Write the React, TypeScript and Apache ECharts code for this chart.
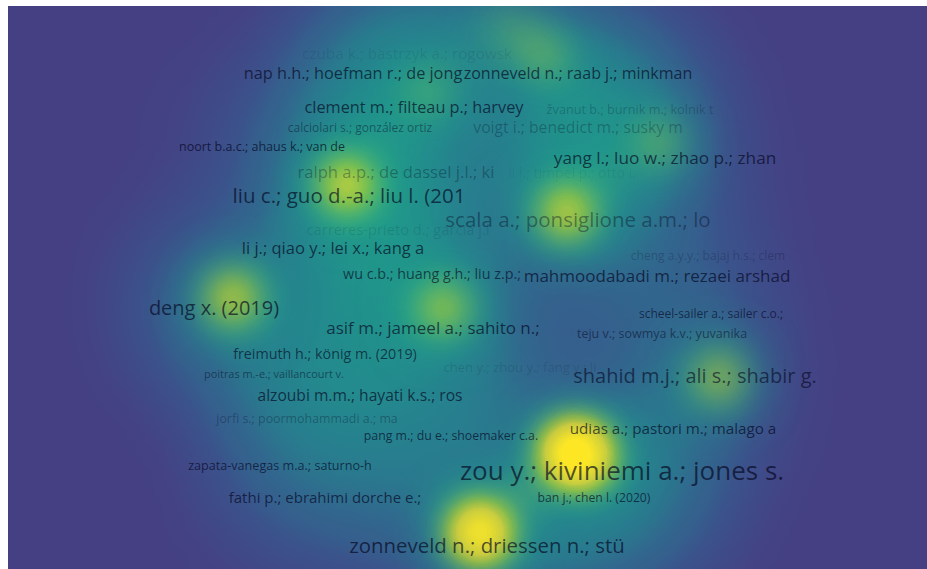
import React, { useEffect, useRef } from "react";
import * as echarts from "echarts";

// Map extent (page-like map coordinates of the VOSviewer layout)
const MAP_X0 = 8, MAP_X1 = 927, MAP_Y0 = 6, MAP_Y1 = 569;

// Labelled items
const itemNames = [
  "czuba k.; bastrzyk a.; rogowsk",
  "nap h.h.; hoefman r.; de jong",
  "zonneveld n.; raab j.; minkman",
  "clement m.; filteau p.; harvey",
  "žvanut b.; burnik m.; kolnik t",
  "calciolari s.; gonzález ortiz",
  "voigt i.; benedict m.; susky m",
  "noort b.a.c.; ahaus k.; van de",
  "yang l.; luo w.; zhao p.; zhan",
  "ralph a.p.; de dassel j.l.; ki",
  "li l.; timpel p.; otto i.",
  "liu c.; guo d.-a.; liu l. (201",
  "scala a.; ponsiglione a.m.; lo",
  "carreres-prieto d.; garcia j.l",
  "li j.; qiao y.; lei x.; kang a",
  "cheng a.y.y.; bajaj h.s.; clem",
  "wu c.b.; huang g.h.; liu z.p.;",
  "mahmoodabadi m.; rezaei arshad",
  "deng x. (2019)",
  "asif m.; jameel a.; sahito n.;",
  "scheel-sailer a.; sailer c.o.;",
  "teju v.; sowmya k.v.; yuvanika",
  "freimuth h.; könig m. (2019)",
  "poitras m.-e.; vaillancourt v.",
  "chen y.; zhou y.; fang y.; li",
  "shahid m.j.; ali s.; shabir g.",
  "alzoubi m.m.; hayati k.s.; ros",
  "jorfi s.; poormohammadi a.; ma",
  "pang m.; du e.; shoemaker c.a.",
  "udias a.; pastori m.; malago a",
  "zapata-vanegas m.a.; saturno-h",
  "zou y.; kiviniemi a.; jones s.",
  "fathi p.; ebrahimi dorche e.;",
  "ban j.; chen l. (2020)",
  "zonneveld n.; driessen n.; stü",
];
const itemX = [407, 353, 578, 414, 630, 360, 578, 262, 665, 396, 572, 349, 578, 398, 333, 708, 432, 657, 214, 433, 711, 662, 325, 274, 520, 695, 360, 307, 451, 673, 280, 622, 325, 594, 487];
const itemY = [53, 73, 73, 107, 109, 127, 127, 146, 157, 171, 172, 195, 219, 229, 247, 255, 273, 275, 307, 327, 313, 333, 353, 373, 367, 375, 395, 418, 435, 428, 465, 470, 497, 497, 545];
const itemWeight = [0.55, 0.45, 0.65, 0.7, 0.25, 0.55, 0.6, 0.3, 0.45, 0.7, 0.6, 0.8, 0.75, 0.7, 0.7, 0.1, 0.65, 0.35, 0.7, 0.75, 0.1, 0.2, 0.6, 0.4, 0.5, 0.5, 0.6, 0.45, 0.45, 0.45, 0.3, 0.7, 0.4, 0.5, 0.7];
const labelSize = [15.3, 16.3, 16, 16.3, 12.7, 12, 15.7, 12.5, 17.2, 16.6, 14, 20.5, 20.5, 14.7, 16.5, 12.1, 14.3, 17, 20, 17, 12, 12.5, 14.3, 10.9, 13, 20, 15.6, 12.4, 12.3, 15.2, 12.6, 26, 15, 12.2, 20.4];
const labelAlpha = [0.13, 0.85, 0.85, 0.85, 0.3, 0.55, 0.35, 0.9, 0.85, 0.4, 0.1, 0.85, 0.5, 0.15, 0.85, 0.3, 0.8, 0.85, 0.85, 0.85, 0.8, 0.65, 0.8, 0.65, 0.18, 0.75, 0.85, 0.4, 0.85, 0.85, 0.85, 0.85, 0.85, 0.85, 0.85];

// Unlabelled items spread through the map (labels hidden)
const hiddenX = [500, 420, 560, 620, 430, 520, 400, 560, 380, 650, 235];
const hiddenY = [30, 40, 160, 90, 400, 500, 500, 540, 300, 520, 300];
const hiddenWeight = [0.6, 0.45, 0.6, 0.5, 0.45, 0.5, 0.45, 0.5, 0.55, 0.35, 0.35];

// Dense cores of the strongest items
const coreX = [573, 595, 480, 347, 567, 233, 718, 443, 657, 548, 428, 500];
const coreY = [453, 460, 532, 185, 212, 298, 378, 308, 143, 58, 92, 22];
const coreWeight = [0.95, 0.22, 0.92, 0.68, 0.65, 0.62, 0.52, 0.55, 0.4, 0.38, 0.35, 0.25];

const baseColors = ["#453f83", "#3f4a88", "#3b528b", "#355f8d", "#31688e", "#2a788e", "#25838e", "#21918c", "#1f9e89", "#22a884"];
const coreColors = ["#21918c", "#22a884", "#44bf70", "#7ad151", "#bddf26", "#fde725",
  "#fde725", "#fde725", "#fde725", "#fde725", "#fde725", "#fde725", "#fde725", "#fde725", "#fde725", "#fde725", "#fde725", "#fde725"];

export default function App() {
  const ref = useRef<HTMLDivElement>(null);
  useEffect(() => {
    if (!ref.current) return;
    echarts.registerMap("vosbox", {
      type: "FeatureCollection",
      features: [
        {
          type: "Feature",
          properties: { name: "box" },
          geometry: {
            type: "Polygon",
            coordinates: [[[MAP_X0, -MAP_Y0], [MAP_X1, -MAP_Y0], [MAP_X1, -MAP_Y1], [MAP_X0, -MAP_Y1], [MAP_X0, -MAP_Y0]]],
          },
        },
      ],
    } as any);
    const chart = echarts.init(ref.current, null, { renderer: "svg" });
    const base: any[] = [];
    itemNames.forEach((_, i) => base.push([itemX[i], -itemY[i], itemWeight[i]]));
    hiddenX.forEach((x, i) => base.push([x, -hiddenY[i], hiddenWeight[i]]));
    const cores = coreX.map((x, i) => [x, -coreY[i], coreWeight[i]]);
    const labels = itemNames.map((n, i) => ({
      name: n,
      value: [itemX[i], -itemY[i]],
      label: { fontSize: labelSize[i], color: `rgba(5,5,30,${labelAlpha[i]})` },
    }));
    chart.setOption({
      animation: false,
      backgroundColor: baseColors[0],
      geo: {
        map: "vosbox",
        left: 0,
        right: 0,
        top: 0,
        bottom: 0,
        roam: false,
        silent: true,
        label: { show: false },
        itemStyle: { areaColor: "rgba(0,0,0,0)", borderWidth: 0, borderColor: "rgba(0,0,0,0)" },
        emphasis: { disabled: true },
        select: { disabled: true },
      },
      visualMap: [
        { type: "continuous", show: false, min: 0, max: 1, seriesIndex: 0, inRange: { color: baseColors } },
        { type: "continuous", show: false, min: 0, max: 1, seriesIndex: 1, inRange: { color: coreColors } },
      ],
      series: [
        {
          type: "heatmap",
          coordinateSystem: "geo",
          data: base,
          pointSize: 60,
          blurSize: 110,
          minOpacity: 1,
          maxOpacity: 1,
          silent: true,
          z: 1,
        },
        {
          type: "heatmap",
          coordinateSystem: "geo",
          data: cores,
          pointSize: 30,
          blurSize: 60,
          minOpacity: 0,
          maxOpacity: 2.5,
          silent: true,
          z: 2,
        },
        {
          type: "scatter",
          coordinateSystem: "geo",
          symbolSize: 0,
          silent: true,
          z: 5,
          data: labels,
          label: {
            show: true,
            position: "inside",
            formatter: "{b}",
            fontFamily: "Open Sans",
          },
        },
      ],
    });
    return () => chart.dispose();
  }, []);
  return (
    <div
      ref={ref}
      style={{ position: "absolute", left: 8, top: 6, width: 919, height: 563 }}
    />
  );
}
